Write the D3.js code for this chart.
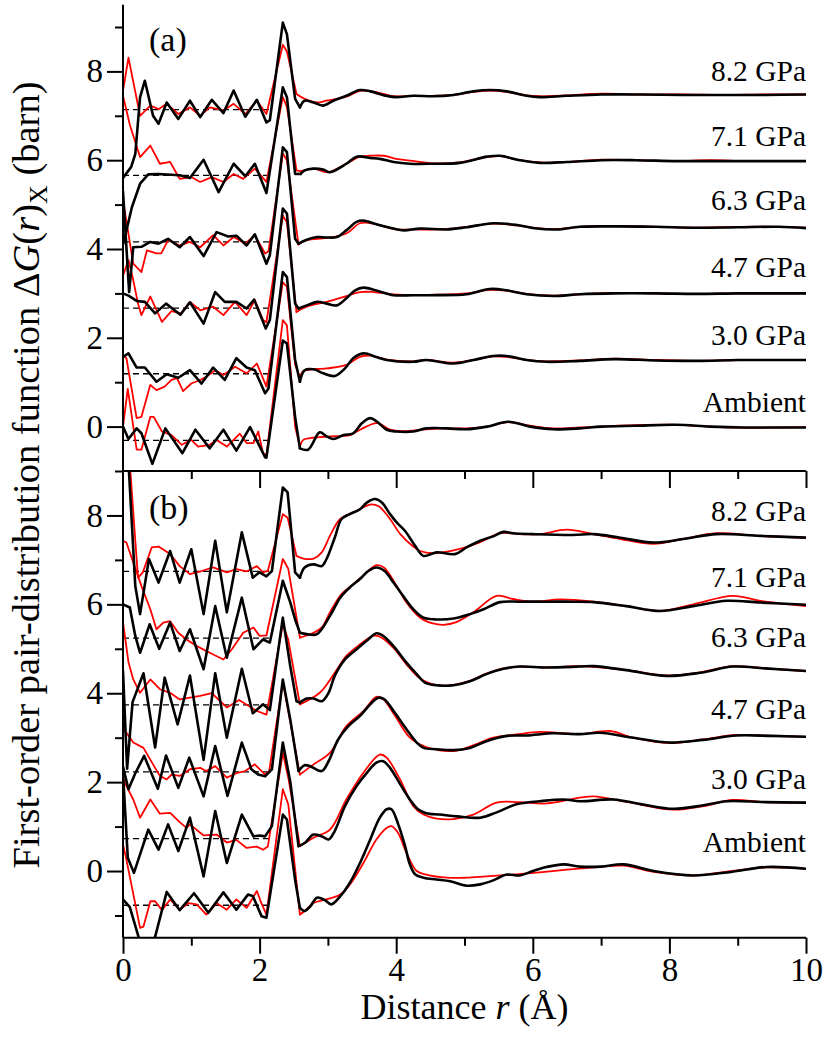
<!DOCTYPE html>
<html>
<head>
<meta charset="utf-8">
<script src="https://cdn.jsdelivr.net/npm/d3@7"></script>
<style>
  body { margin: 0; background: #fff; }
</style>
</head>
<body>
<div id="chart"></div>
<script>
// ---- data: [r (Å), ΔG(r)_X (barn), curves already shifted] ----
const pressures = ["Ambient", "3.0 GPa", "4.7 GPa", "6.3 GPa", "7.1 GPa", "8.2 GPa"];
const xTicks = [0, 2, 4, 6, 8, 10];
const yTicks = [0, 2, 4, 6, 8];

// panel (a)
const aAmbB = [[0,0.0],[0.08,-0.28],[0.2,-0.04],[0.27,-0.15],[0.43,-0.84],[0.62,-0.04],[0.87,-0.6],[1.06,-0.07],[1.27,-0.49],[1.47,-0.07],[1.66,-0.54],[1.86,-0.01],[2.08,-0.69],[2.1,-0.7],[2.34,1.94],[2.4,1.87],[2.52,0.22],[2.59,-0.49],[2.71,-0.52],[2.88,-0.13],[2.98,-0.22],[3.08,-0.28],[3.23,-0.19],[3.37,-0.15],[3.5,0.08],[3.62,0.19],[3.72,0.11],[3.86,-0.07],[4.0,-0.11],[4.25,-0.11],[4.44,-0.04],[4.74,-0.04],[5.03,-0.06],[5.33,0.0],[5.64,0.11],[5.96,0.0],[6.3,-0.06],[6.69,-0.04],[7.0,0.0],[7.5,0.02],[8.1,0.04],[8.6,0.0],[9.1,-0.02],[9.6,-0.02],[10,-0.02]];
const aAmbR = [[0,0.0],[0.07,0.85],[0.2,-0.52],[0.27,-0.52],[0.4,0.22],[0.45,0.22],[0.57,-0.11],[0.71,-0.19],[0.86,-0.41],[1.0,-0.3],[1.1,-0.45],[1.27,-0.41],[1.37,-0.3],[1.52,-0.45],[1.62,-0.3],[1.71,-0.16],[1.81,-0.37],[1.91,-0.37],[1.98,-0.11],[2.05,-0.6],[2.1,-0.64],[2.34,2.4],[2.4,2.28],[2.52,0.0],[2.59,-0.45],[2.64,-0.3],[2.74,-0.26],[3.03,-0.22],[3.32,-0.19],[3.47,-0.07],[3.72,0.08],[3.91,-0.07],[4.1,-0.1],[4.44,-0.06],[4.74,-0.04],[5.03,-0.04],[5.33,0.0],[5.64,0.1],[5.96,0.02],[6.3,-0.04],[6.69,-0.02],[7.0,0.0],[7.5,0.03],[8.1,0.04],[8.6,0.0],[9.1,-0.03],[9.6,-0.02],[10,-0.01]];
const a30B = [[0,1.57],[0.08,1.65],[0.2,1.33],[0.32,1.33],[0.49,1.01],[0.64,1.18],[0.81,1.1],[0.98,1.27],[1.15,0.97],[1.32,1.33],[1.49,1.05],[1.66,1.54],[1.81,1.33],[1.93,1.27],[2.08,0.75],[2.13,0.86],[2.34,3.48],[2.4,3.37],[2.52,1.5],[2.59,1.01],[2.66,1.27],[2.79,1.29],[2.93,1.2],[3.1,1.14],[3.25,1.31],[3.37,1.54],[3.52,1.65],[3.72,1.56],[3.86,1.5],[4.25,1.46],[4.44,1.5],[4.84,1.42],[5.13,1.5],[5.42,1.59],[5.62,1.59],[5.91,1.5],[6.2,1.46],[6.69,1.48],[7.2,1.52],[7.8,1.49],[8.4,1.48],[9.0,1.5],[9.6,1.5],[10,1.5]];
const a30R = [[0,1.6],[0.05,1.54],[0.2,0.19],[0.27,0.22],[0.4,0.94],[0.49,0.82],[0.61,0.9],[0.71,1.05],[0.79,1.09],[0.88,0.8],[1.0,0.97],[1.13,1.05],[1.22,1.12],[1.35,1.27],[1.47,1.16],[1.64,1.35],[1.81,1.2],[1.96,1.42],[2.1,0.9],[2.34,3.25],[2.4,3.15],[2.52,1.4],[2.59,1.1],[2.64,1.25],[2.98,1.31],[3.27,1.39],[3.47,1.57],[3.62,1.6],[3.86,1.51],[4.25,1.47],[4.44,1.5],[4.84,1.44],[5.13,1.5],[5.42,1.58],[5.62,1.57],[5.91,1.5],[6.2,1.47],[6.69,1.49],[7.2,1.53],[7.8,1.5],[8.4,1.48],[9.0,1.5],[9.6,1.5],[10,1.5]];
const a47B = [[0,3.0],[0.08,2.95],[0.2,2.83],[0.32,2.81],[0.47,2.55],[0.63,2.77],[0.84,2.52],[0.98,2.8],[1.18,2.32],[1.35,3.03],[1.49,2.81],[1.66,2.81],[1.81,2.66],[1.92,2.86],[2.09,2.21],[2.15,2.4],[2.34,4.91],[2.4,4.8],[2.52,2.77],[2.57,2.66],[2.69,2.73],[2.84,2.81],[2.98,2.77],[3.13,2.73],[3.27,2.89],[3.4,3.07],[3.52,3.13],[3.72,3.06],[3.96,2.96],[4.25,2.96],[4.54,2.96],[5.03,2.98],[5.37,3.1],[5.62,3.07],[5.91,2.98],[6.3,2.94],[6.69,2.98],[7.2,3.0],[7.8,3.0],[8.4,2.99],[9.0,3.0],[9.6,3.0],[10,3.0]];
const a47R = [[0,3.4],[0.08,3.75],[0.15,3.3],[0.22,2.77],[0.27,2.51],[0.4,2.93],[0.57,2.36],[0.71,2.6],[0.85,2.55],[0.98,2.81],[1.13,2.62],[1.32,2.7],[1.47,2.51],[1.64,2.81],[1.81,2.51],[1.93,2.85],[2.05,2.4],[2.1,2.35],[2.34,4.75],[2.4,4.6],[2.54,2.58],[2.69,2.7],[2.98,2.81],[3.27,2.94],[3.47,3.03],[3.67,3.03],[3.96,2.98],[4.25,2.96],[4.54,2.97],[5.03,3.0],[5.37,3.08],[5.62,3.06],[5.91,2.99],[6.3,2.95],[6.69,2.98],[7.2,3.01],[7.8,3.0],[8.4,2.99],[9.0,3.0],[9.6,3.0],[10,3.0]];
const a63B = [[0,5.3],[0.09,3.03],[0.15,4.04],[0.27,4.05],[0.4,4.16],[0.52,4.12],[0.66,4.23],[0.83,4.04],[0.98,4.27],[1.18,3.84],[1.37,4.38],[1.54,4.28],[1.66,4.3],[1.81,4.08],[1.93,4.33],[2.1,3.67],[2.15,3.86],[2.34,6.29],[2.4,6.18],[2.52,4.23],[2.57,4.12],[2.69,4.21],[2.84,4.27],[2.98,4.26],[3.13,4.27],[3.27,4.42],[3.42,4.61],[3.52,4.64],[3.72,4.55],[3.96,4.46],[4.11,4.42],[4.35,4.46],[4.74,4.44],[5.03,4.49],[5.42,4.58],[5.77,4.54],[6.06,4.46],[6.35,4.44],[6.69,4.5],[7.2,4.51],[7.8,4.5],[8.4,4.48],[9.0,4.49],[9.6,4.5],[10,4.47]];
const a63R = [[0,5.1],[0.15,3.67],[0.27,3.48],[0.35,3.97],[0.49,3.9],[0.56,3.9],[0.66,4.2],[0.83,4.08],[0.98,4.16],[1.13,4.04],[1.32,4.31],[1.47,4.08],[1.62,4.27],[1.79,4.12],[1.93,4.31],[2.08,3.9],[2.13,3.95],[2.34,6.15],[2.4,6.0],[2.57,4.1],[2.69,4.2],[2.98,4.25],[3.27,4.35],[3.47,4.58],[3.67,4.57],[3.96,4.45],[4.25,4.44],[4.74,4.45],[5.03,4.5],[5.42,4.57],[5.77,4.53],[6.06,4.47],[6.35,4.45],[6.69,4.5],[7.2,4.52],[7.8,4.5],[8.4,4.48],[9.0,4.5],[9.6,4.5],[10,4.48]];
const a71B = [[0,4.1],[0.04,4.35],[0.13,4.94],[0.25,5.47],[0.37,5.68],[0.52,5.69],[0.83,5.66],[0.98,5.6],[1.18,6.01],[1.4,5.28],[1.62,5.92],[1.79,5.64],[1.93,5.92],[2.1,5.26],[2.34,7.64],[2.4,7.42],[2.52,5.69],[2.6,5.69],[2.66,5.77],[2.79,5.81],[2.93,5.79],[3.03,5.73],[3.27,5.92],[3.42,6.08],[3.62,6.05],[3.76,6.03],[3.96,5.96],[4.2,5.92],[4.54,5.92],[4.93,5.94],[5.33,6.08],[5.52,6.1],[5.81,6.0],[6.1,5.94],[6.5,5.96],[7.0,6.0],[7.5,6.0],[8.1,5.98],[8.6,5.98],[9.1,5.98],[9.6,5.98],[10,5.98]];
const a71R = [[0,7.45],[0.1,6.8],[0.25,6.07],[0.4,6.33],[0.54,5.92],[0.69,5.96],[0.83,5.58],[1.0,5.62],[1.13,5.51],[1.3,5.62],[1.47,5.51],[1.62,5.69],[1.76,5.58],[1.93,5.81],[2.1,5.51],[2.34,7.42],[2.4,7.2],[2.54,5.77],[2.6,5.75],[2.79,5.81],[3.0,5.73],[3.27,5.92],[3.47,6.08],[3.62,6.1],[3.82,6.1],[4.0,6.03],[4.2,5.99],[4.54,5.93],[4.93,5.95],[5.33,6.07],[5.52,6.09],[5.81,6.0],[6.1,5.95],[6.5,5.96],[7.0,6.01],[7.5,6.0],[8.1,5.98],[8.6,6.0],[9.1,5.98],[9.6,5.98],[10,5.98]];
const a82B = [[0,5.6],[0.12,5.85],[0.18,6.14],[0.25,7.42],[0.32,7.79],[0.44,7.0],[0.52,6.82],[0.64,7.3],[0.81,6.93],[0.98,7.34],[1.13,6.97],[1.3,7.36],[1.47,7.06],[1.62,7.57],[1.79,6.98],[1.96,7.36],[2.1,6.85],[2.15,6.9],[2.34,9.1],[2.4,8.84],[2.52,7.38],[2.59,7.19],[2.66,7.34],[2.79,7.3],[2.93,7.23],[3.08,7.34],[3.27,7.45],[3.47,7.58],[3.62,7.55],[3.86,7.45],[4.0,7.42],[4.25,7.45],[4.54,7.44],[4.84,7.47],[5.13,7.55],[5.37,7.58],[5.62,7.55],[5.91,7.45],[6.1,7.42],[6.5,7.45],[7.0,7.48],[7.6,7.48],[8.2,7.47],[8.8,7.47],[9.4,7.47],[10,7.48]];
const a82R = [[0,7.56],[0.08,8.31],[0.25,7.0],[0.4,7.23],[0.52,7.15],[0.64,7.27],[0.81,7.04],[0.98,7.19],[1.13,7.0],[1.27,7.19],[1.47,7.12],[1.62,7.27],[1.79,7.04],[1.96,7.34],[2.1,7.04],[2.34,8.6],[2.4,8.45],[2.54,7.49],[2.66,7.38],[2.84,7.3],[2.98,7.34],[3.27,7.43],[3.47,7.56],[3.72,7.53],[3.96,7.44],[4.25,7.45],[4.54,7.45],[4.84,7.47],[5.13,7.54],[5.37,7.57],[5.62,7.54],[5.91,7.46],[6.1,7.44],[6.5,7.46],[7.0,7.5],[7.6,7.48],[8.2,7.48],[8.8,7.47],[9.4,7.48],[10,7.48]];

// panel (b)
const bAmbB = [[0,-0.64],[0.1,-0.81],[0.25,-1.6],[0.33,-1.95],[0.45,-1.6],[0.64,-0.47],[0.83,-0.88],[1.04,-0.5],[1.25,-0.94],[1.47,-0.48],[1.66,-0.87],[1.83,-0.53],[1.9,-0.56],[2.03,-1.02],[2.1,-1.05],[2.34,1.27],[2.4,1.16],[2.52,-0.2],[2.59,-0.83],[2.66,-0.9],[2.74,-0.8],[2.84,-0.6],[2.95,-0.65],[3.05,-0.75],[3.18,-0.57],[3.32,-0.27],[3.47,0.18],[3.62,0.71],[3.76,1.2],[3.86,1.39],[3.93,1.39],[4.03,1.05],[4.13,0.56],[4.2,0.15],[4.28,-0.08],[4.4,-0.15],[4.59,-0.19],[4.79,-0.23],[5.03,-0.33],[5.23,-0.3],[5.42,-0.21],[5.62,-0.08],[5.81,-0.1],[6.0,0.0],[6.2,0.09],[6.45,0.15],[6.69,0.1],[7.0,0.1],[7.33,0.15],[7.77,0.0],[8.35,-0.1],[8.9,-0.02],[9.42,0.09],[10,0.05]];
const bAmbR = [[0,0.6],[0.04,0.33],[0.25,-1.28],[0.3,-1.25],[0.4,-0.68],[0.47,-0.68],[0.57,-0.88],[0.69,-0.64],[0.83,-0.87],[0.96,-0.72],[1.08,-0.75],[1.22,-0.98],[1.37,-0.72],[1.52,-0.87],[1.66,-0.64],[1.81,-0.83],[1.96,-0.45],[2.02,-0.7],[2.1,-0.98],[2.34,1.84],[2.42,1.5],[2.59,-0.98],[2.66,-0.9],[2.79,-0.72],[2.98,-0.64],[3.18,-0.53],[3.32,-0.31],[3.52,0.18],[3.71,0.71],[3.86,0.97],[3.93,1.01],[4.03,0.85],[4.15,0.41],[4.3,0.0],[4.44,-0.08],[4.74,-0.15],[5.03,-0.15],[5.32,-0.12],[5.71,-0.08],[6.1,-0.03],[6.5,0.03],[6.9,0.08],[7.33,0.12],[7.77,-0.02],[8.35,-0.1],[8.9,0.0],[9.42,0.08],[10,0.05]];
const b30B = [[0,2.2],[0.07,0.3],[0.16,-0.04],[0.37,0.93],[0.52,0.48],[0.66,1.05],[0.81,0.45],[0.98,1.2],[1.18,-0.12],[1.35,1.35],[1.52,0.18],[1.74,1.27],[1.91,0.78],[2.0,0.8],[2.08,0.78],[2.18,1.01],[2.34,2.89],[2.45,2.0],[2.57,0.56],[2.66,0.63],[2.79,0.82],[2.91,0.78],[3.01,0.71],[3.1,0.9],[3.25,1.46],[3.42,1.91],[3.57,2.21],[3.71,2.44],[3.81,2.47],[3.91,2.32],[4.06,1.95],[4.2,1.61],[4.32,1.39],[4.44,1.3],[4.64,1.27],[4.89,1.23],[5.23,1.2],[5.47,1.32],[5.76,1.5],[6.1,1.57],[6.45,1.61],[6.69,1.57],[7.18,1.61],[7.6,1.5],[8.06,1.4],[8.5,1.48],[8.84,1.57],[9.4,1.55],[10,1.54]];
const b30R = [[0,2.1],[0.05,1.91],[0.15,1.61],[0.25,1.2],[0.4,1.61],[0.54,1.29],[0.69,1.31],[0.83,1.1],[0.93,0.97],[0.98,1.05],[1.18,0.8],[1.37,0.82],[1.52,0.64],[1.66,0.7],[1.81,0.52],[1.96,0.55],[2.05,0.48],[2.12,0.55],[2.34,2.66],[2.42,2.1],[2.59,0.56],[2.79,0.75],[3.03,0.93],[3.27,1.61],[3.52,2.21],[3.76,2.62],[3.86,2.55],[4.06,2.05],[4.25,1.46],[4.4,1.27],[4.59,1.18],[4.84,1.17],[5.13,1.27],[5.47,1.54],[5.8,1.55],[6.2,1.52],[6.69,1.65],[6.89,1.68],[7.4,1.55],[8.06,1.38],[8.5,1.46],[8.93,1.6],[9.4,1.55],[10,1.54]];
const b47B = [[0,2.35],[0.08,1.84],[0.18,2.2],[0.31,2.59],[0.51,1.85],[0.63,2.6],[0.81,1.87],[0.97,2.55],[1.18,1.68],[1.35,2.81],[1.53,1.69],[1.74,2.89],[1.88,2.29],[1.98,2.17],[2.08,2.13],[2.18,2.29],[2.34,4.31],[2.45,3.4],[2.57,2.25],[2.66,2.38],[2.74,2.36],[2.91,2.25],[3.01,2.47],[3.15,2.96],[3.3,3.26],[3.47,3.49],[3.62,3.75],[3.74,3.9],[3.83,3.86],[3.98,3.56],[4.15,3.19],[4.3,2.89],[4.4,2.77],[4.59,2.74],[4.84,2.72],[5.08,2.77],[5.32,2.92],[5.62,3.04],[5.91,3.05],[6.3,3.1],[6.69,3.08],[6.98,3.11],[7.47,3.0],[8.0,2.89],[8.49,2.95],[8.98,3.05],[9.5,3.04],[10,3.02]];
const b47R = [[0,3.2],[0.05,3.11],[0.15,2.89],[0.3,2.77],[0.44,2.4],[0.54,2.14],[0.64,2.06],[0.71,2.17],[0.83,2.14],[0.98,2.29],[1.13,2.32],[1.22,2.25],[1.35,2.36],[1.52,2.1],[1.66,2.2],[1.79,2.25],[1.93,2.4],[2.08,2.17],[2.14,2.25],[2.34,4.25],[2.42,3.6],[2.59,2.17],[2.79,2.4],[3.03,2.66],[3.27,3.26],[3.52,3.6],[3.71,3.92],[3.8,3.88],[3.98,3.5],[4.2,3.0],[4.44,2.79],[4.84,2.7],[5.23,2.89],[5.42,3.0],[5.8,3.08],[6.1,3.13],[6.69,3.08],[7.13,3.15],[7.47,3.0],[8.0,2.88],[8.49,2.96],[8.98,3.06],[9.5,3.04],[10,3.02]];
const b63B = [[0,4.5],[0.06,2.3],[0.14,3.8],[0.3,4.45],[0.47,2.78],[0.61,4.35],[0.8,3.3],[0.98,4.4],[1.18,2.5],[1.35,4.45],[1.52,3.0],[1.74,4.55],[1.9,3.55],[2.05,3.75],[2.15,3.62],[2.34,5.7],[2.45,4.6],[2.54,3.82],[2.59,3.79],[2.69,3.88],[2.79,3.88],[2.91,3.82],[3.01,4.01],[3.1,4.39],[3.25,4.76],[3.42,4.99],[3.59,5.21],[3.71,5.35],[3.8,5.3],[3.96,5.06],[4.15,4.69],[4.3,4.43],[4.42,4.24],[4.59,4.18],[4.84,4.18],[5.08,4.27],[5.32,4.43],[5.57,4.55],[5.81,4.6],[6.2,4.58],[6.69,4.6],[6.89,4.61],[7.37,4.52],[7.96,4.39],[8.45,4.46],[8.93,4.6],[9.4,4.56],[10,4.5]];
const b63R = [[0,5.6],[0.08,4.7],[0.15,4.31],[0.25,4.01],[0.4,4.31],[0.54,4.09],[0.69,4.01],[0.83,3.86],[0.98,3.9],[1.13,3.94],[1.3,4.0],[1.52,3.68],[1.7,3.85],[1.96,3.6],[2.1,3.52],[2.34,5.55],[2.42,5.2],[2.59,3.75],[2.88,4.01],[3.1,4.46],[3.27,4.84],[3.47,5.1],[3.66,5.29],[3.76,5.27],[3.96,5.02],[4.15,4.65],[4.35,4.33],[4.59,4.18],[4.84,4.19],[5.08,4.28],[5.32,4.44],[5.57,4.56],[5.81,4.6],[6.2,4.58],[6.69,4.61],[7.37,4.52],[7.96,4.4],[8.45,4.47],[8.93,4.61],[9.4,4.56],[10,4.5]];
const b71B = [[0,6.0],[0.1,5.93],[0.18,5.29],[0.25,4.91],[0.39,5.55],[0.53,5.0],[0.69,5.59],[0.83,4.95],[0.98,5.44],[1.18,4.54],[1.35,5.96],[1.52,4.8],[1.74,6.15],[1.91,4.99],[2.05,5.21],[2.15,5.14],[2.34,6.53],[2.45,6.04],[2.52,5.66],[2.59,5.36],[2.69,5.33],[2.84,5.33],[3.03,5.74],[3.18,6.15],[3.32,6.38],[3.47,6.57],[3.59,6.75],[3.71,6.83],[3.83,6.75],[3.96,6.49],[4.1,6.19],[4.25,5.89],[4.4,5.7],[4.59,5.66],[4.84,5.68],[5.08,5.78],[5.28,5.89],[5.52,6.05],[5.81,6.06],[6.2,6.06],[6.59,6.06],[6.89,6.05],[7.37,5.96],[7.86,5.85],[8.35,5.96],[8.84,6.08],[9.33,6.04],[10,5.99]];
const b71R = [[0,7.43],[0.05,7.39],[0.27,6.41],[0.4,5.89],[0.49,5.44],[0.59,5.59],[0.69,5.62],[0.81,5.36],[0.93,5.21],[1.08,5.06],[1.27,4.91],[1.47,4.76],[1.6,5.0],[1.76,5.36],[1.91,5.48],[2.0,5.29],[2.1,5.3],[2.34,7.02],[2.42,6.8],[2.59,5.25],[2.79,5.36],[2.91,5.48],[3.03,5.82],[3.2,6.23],[3.37,6.45],[3.57,6.72],[3.71,6.88],[3.82,6.83],[4.01,6.41],[4.15,6.04],[4.35,5.7],[4.54,5.57],[4.69,5.54],[4.88,5.6],[5.13,5.82],[5.47,6.19],[5.71,6.12],[6.0,6.06],[6.4,6.11],[6.89,6.06],[7.37,5.96],[7.86,5.85],[8.35,6.0],[8.93,6.19],[9.33,6.08],[10,5.96]];
const b82B = [[0,10.5],[0.08,9.2],[0.18,6.41],[0.25,5.78],[0.38,7.02],[0.52,6.49],[0.69,7.2],[0.83,6.49],[1.0,7.24],[1.18,5.78],[1.35,7.43],[1.52,5.82],[1.74,7.62],[1.9,6.6],[2.0,6.72],[2.1,6.63],[2.18,6.75],[2.34,8.63],[2.41,8.52],[2.52,6.72],[2.59,6.6],[2.66,6.83],[2.79,6.9],[2.91,6.86],[2.98,7.02],[3.1,7.5],[3.2,7.92],[3.32,8.03],[3.47,8.14],[3.57,8.29],[3.69,8.37],[3.79,8.29],[3.91,8.03],[4.01,7.84],[4.13,7.65],[4.28,7.31],[4.4,7.09],[4.59,7.17],[4.86,7.13],[5.03,7.28],[5.23,7.43],[5.42,7.53],[5.57,7.63],[5.71,7.6],[6.0,7.58],[6.59,7.56],[6.89,7.58],[7.28,7.5],[7.77,7.39],[8.2,7.47],[8.69,7.58],[9.33,7.54],[10,7.5]];
const b82R = [[0,11],[0.08,9.6],[0.13,8.52],[0.18,7.43],[0.22,6.6],[0.29,6.72],[0.42,7.28],[0.52,7.3],[0.69,7.13],[0.83,6.86],[0.98,6.68],[1.15,6.75],[1.32,6.83],[1.52,6.72],[1.66,6.79],[1.81,6.74],[1.96,6.86],[2.05,6.72],[2.12,6.75],[2.34,8.03],[2.41,7.95],[2.54,7.09],[2.64,7.03],[2.79,7.03],[2.91,7.17],[3.03,7.54],[3.18,7.92],[3.42,8.1],[3.57,8.22],[3.64,8.25],[3.75,8.2],[3.91,7.92],[4.06,7.58],[4.25,7.3],[4.35,7.2],[4.54,7.15],[4.93,7.25],[5.23,7.4],[5.52,7.6],[5.81,7.58],[6.1,7.58],[6.5,7.68],[6.89,7.58],[7.28,7.47],[7.77,7.36],[8.2,7.47],[8.69,7.6],[9.33,7.54],[10,7.5]];

// low-r baselines (dashed) and where the pressure labels sit
const aDash = [-0.31, 1.19, 2.67, 4.16, 5.66, 7.14];
const bDash = [-0.77, 0.73, 2.23, 3.74, 5.24, 6.74];
const dashEnd = 2.16;
const aLabelY = [0.33, 1.84, 3.36, 4.87, 6.31, 7.79];
const bLabelY = [0.42, 1.84, 3.41, 5.03, 6.39, 7.88];

// ---- layout ----
const FONT = "Liberation Serif";
const width = 827, height = 1039;
const x = d3.scaleLinear().domain([0, 10]).range([123, 806]);
const yA = d3.scaleLinear().domain([-1, 9.5]).range([471, 4.8]);
const yB = d3.scaleLinear().domain([-1.5, 9]).range([937.7, 471]);
const SPLIT = 2.6;   // sharp (linear) segments below, smooth above

const svg = d3.select("#chart").append("svg")
  .attr("width", width).attr("height", height);

const panels = [
  { id: "a", y: yA, red: [aAmbR, a30R, a47R, a63R, a71R, a82R], black: [aAmbB, a30B, a47B, a63B, a71B, a82B], dash: aDash, lab: aLabelY },
  { id: "b", y: yB, red: [bAmbR, b30R, b47R, b63R, b71R, b82R], black: [bAmbB, b30B, b47B, b63B, b71B, b82B], dash: bDash, lab: bLabelY }
];

function drawCurve(g, y, pts, color, w) {
  const lin = pts.filter(p => p[0] <= SPLIT);
  const smooth = [lin[lin.length - 1]].concat(pts.filter(p => p[0] > SPLIT));
  const lineLin = d3.line().x(p => x(p[0])).y(p => y(p[1])).curve(d3.curveLinear);
  const lineSm = d3.line().x(p => x(p[0])).y(p => y(p[1])).curve(d3.curveCatmullRom.alpha(0.5));
  [lineLin(lin), lineSm(smooth)].forEach(d => {
    g.append("path").attr("d", d)
      .attr("fill", "none").attr("stroke", color).attr("stroke-width", w)
      .attr("stroke-linejoin", "round").attr("stroke-linecap", "round");
  });
}

function styleAxis(a, size) {
  a.select(".domain").remove();
  a.selectAll("line").attr("stroke-width", 2);
  a.selectAll("text").style("font-family", FONT).style("font-size", size + "px");
}

panels.forEach(p => {
  const [y0, y1] = p.y.range();
  svg.append("clipPath").attr("id", "clip-" + p.id)
    .append("rect").attr("x", x(0)).attr("y", y1).attr("width", x(10) - x(0)).attr("height", y0 - y1);
  const g = svg.append("g").attr("clip-path", "url(#clip-" + p.id + ")");

  g.selectAll(".dash").data(p.dash).enter().append("line")
    .attr("x1", x(0)).attr("x2", x(dashEnd))
    .attr("y1", d => p.y(d)).attr("y2", d => p.y(d))
    .attr("stroke", "#000").attr("stroke-width", 1.3).attr("stroke-dasharray", "6,4");

  p.red.forEach(s => drawCurve(g, p.y, s, "#ff0000", 1.8));
  p.black.forEach(s => drawCurve(g, p.y, s, "#000", 2.6));

  // pressure labels
  svg.selectAll(".lab-" + p.id).data(pressures).enter().append("text")
    .attr("x", 806).attr("y", (d, i) => p.y(p.lab[i]))
    .attr("text-anchor", "end").style("font-family", FONT).style("font-size", "29.5px").text(d => d);

  // left axis, major + minor ticks
  const major = svg.append("g").attr("transform", "translate(" + x(0) + ",0)")
    .call(d3.axisLeft(p.y).tickValues(yTicks).tickSize(16).tickPadding(4).tickFormat(d3.format("d")));
  const minor = svg.append("g").attr("transform", "translate(" + x(0) + ",0)")
    .call(d3.axisLeft(p.y).tickValues([-1, 1, 3, 5, 7, 9].filter(v => v > p.y.domain()[0])).tickSize(8).tickFormat(""));
  styleAxis(major, 33);
  styleAxis(minor, 33);

  svg.append("text").attr("x", 149).attr("y", y1 + (p.id === "a" ? 46 : 48))
    .style("font-family", FONT).style("font-size", "34px").text("(" + p.id + ")");
});

// shared horizontal line between panels with inward ticks for (b)
svg.append("line").attr("x1", x(0)).attr("x2", x(10)).attr("y1", 471).attr("y2", 471)
  .attr("stroke", "#000").attr("stroke-width", 2);
const topMajor = svg.append("g").attr("transform", "translate(0,471)")
  .call(d3.axisBottom(x).tickValues([2, 4, 6, 8, 10]).tickSize(17).tickFormat(""));
const topMinor = svg.append("g").attr("transform", "translate(0,471)")
  .call(d3.axisBottom(x).tickValues([1, 3, 5, 7, 9]).tickSize(8).tickFormat(""));

// bottom axis
const botMajor = svg.append("g").attr("transform", "translate(0,937.7)")
  .call(d3.axisBottom(x).tickValues(xTicks).tickSize(16).tickPadding(4).tickFormat(d3.format("d")));
const botMinor = svg.append("g").attr("transform", "translate(0,937.7)")
  .call(d3.axisBottom(x).tickValues([1, 3, 5, 7, 9]).tickSize(8).tickFormat(""));
[topMajor, topMinor, botMajor, botMinor].forEach(a => styleAxis(a, 33));
svg.append("line").attr("x1", x(0)).attr("x2", x(10)).attr("y1", 937.7).attr("y2", 937.7)
  .attr("stroke", "#000").attr("stroke-width", 2);

// left axis line through both panels
svg.append("line").attr("x1", x(0)).attr("x2", x(0)).attr("y1", 4.8).attr("y2", 937.7)
  .attr("stroke", "#000").attr("stroke-width", 2);

// axis titles
const xt = svg.append("text").attr("x", (x(0) + x(10)) / 2).attr("y", 1019)
  .attr("text-anchor", "middle").style("font-family", FONT).style("font-size", "36px");
xt.append("tspan").text("Distance ");
xt.append("tspan").style("font-style", "italic").text("r");
xt.append("tspan").text(" (Å)");

const yt = svg.append("text").attr("transform", "translate(39,475) rotate(-90)")
  .attr("text-anchor", "middle").style("font-family", FONT).style("font-size", "38.5px");
yt.append("tspan").text("First-order pair-distribution function Δ");
yt.append("tspan").style("font-style", "italic").text("G");
yt.append("tspan").text("(");
yt.append("tspan").style("font-style", "italic").text("r");
yt.append("tspan").text(")");
yt.append("tspan").attr("dy", 8).style("font-size", "26px").text("X");
yt.append("tspan").attr("dy", -8).text(" (barn)");
</script>
</body>
</html>
